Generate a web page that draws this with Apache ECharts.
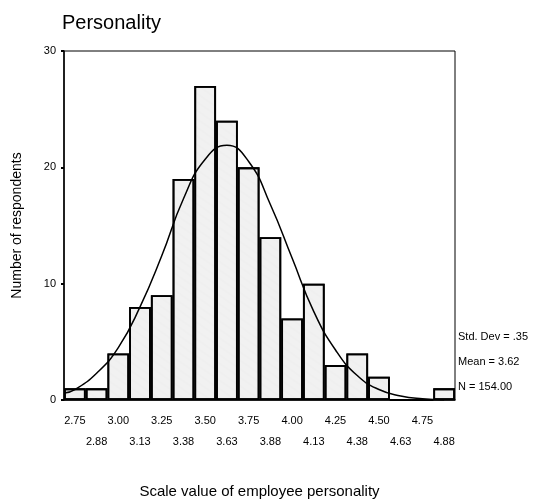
<!DOCTYPE html>
<html>
<head>
<meta charset="utf-8">
<script src="https://cdn.jsdelivr.net/npm/echarts@6/dist/echarts.min.js"></script>
<style>
  html, body { margin: 0; padding: 0; background: #fff; }
  #chart { width: 546px; height: 504px; }
</style>
</head>
<body>
<div id="chart"></div>
<script>
// bin labels (bin width .125)
const binLabels = ["2.75", "2.88", "3.00", "3.13", "3.25", "3.38", "3.50", "3.63", "3.75",
  "3.88", "4.00", "4.13", "4.25", "4.38", "4.50", "4.63", "4.75", "4.88"];
const counts = [1, 1, 4, 8, 9, 19, 27, 24, 20, 14, 7, 10, 3, 4, 2, 0, 0, 1];

// normal curve
const curveX = [2.69, 2.75, 2.875, 3.0, 3.125, 3.25, 3.375, 3.5, 3.625, 3.75, 3.875,
  4.0, 4.125, 4.25, 4.375, 4.5, 4.625, 4.75, 4.875];
const curveY = [0.6, 0.9, 2.3, 4.5, 8.0, 12.4, 17.3, 20.7, 21.9, 20.5, 16.8,
  12.2, 7.6, 4.3, 2.1, 0.9, 0.35, 0.1, 0.0];

const yTicks = [0, 10, 20, 30];
const stats = ["Std. Dev = .35", "Mean = 3.62", "N = 154.00"];

const font = "'Liberation Sans', Arial, sans-serif";

const chart = echarts.init(document.getElementById("chart"));

chart.setOption({
  animation: false,
  title: {
    text: "Personality",
    left: 57,
    top: 8,
    textStyle: { fontFamily: font, fontSize: 20, fontWeight: "normal", color: "#000" },
  },
  grid: {
    left: 64,
    right: 91,
    top: 51,
    bottom: 104,
    show: true,
    borderColor: "#000",
    borderWidth: 1,
  },
  xAxis: [
    {
      type: "category",
      data: binLabels,
      boundaryGap: true,
      name: "Scale value of employee personality",
      nameLocation: "middle",
      nameGap: 84,
      nameTextStyle: { fontFamily: font, fontSize: 15, color: "#000" },
      axisLine: { lineStyle: { color: "#000", width: 1.5 } },
      axisTick: { alignWithLabel: true, length: 4, lineStyle: { color: "#000", width: 2 } },
      axisLabel: {
        interval: 0,
        margin: 10,
        fontFamily: font,
        fontSize: 11,
        color: "#000",
        lineHeight: 21,
        formatter: (v, i) => (i % 2 === 0 ? v : "\n" + v),
      },
    },
    {
      type: "value",
      min: 2.6875,
      max: 4.9375,
      show: false,
    },
  ],
  yAxis: {
    type: "value",
    min: 0,
    max: 30,
    interval: 10,
    name: "Number of respondents",
    nameLocation: "middle",
    nameGap: 40,
    nameTextStyle: { fontFamily: font, fontSize: 14, color: "#000" },
    axisLine: { show: true, lineStyle: { color: "#000", width: 1.5 } },
    axisTick: { show: true, length: 3, lineStyle: { color: "#000", width: 2 } },
    splitLine: { show: false },
    axisLabel: {
      fontFamily: font,
      fontSize: 11,
      color: "#000",
      margin: 8,
      formatter: (v) => (yTicks.includes(v) ? String(v) : ""),
    },
  },
  series: [
    {
      type: "bar",
      xAxisIndex: 0,
      data: counts,
      barCategoryGap: "0%",
      itemStyle: {
        color: "#f1f1f1",
        borderColor: "#000",
        borderWidth: 1.8,
        decal: {
          symbol: "circle",
          symbolSize: 0.3,
          color: "rgba(0,0,0,0.3)",
          dashArrayX: [1, 0],
          dashArrayY: [2, 5],
          rotation: 0.6,
        },
      },
    },
    {
      type: "line",
      xAxisIndex: 1,
      data: curveX.map((x, i) => [x, curveY[i]]),
      smooth: true,
      symbol: "none",
      lineStyle: { color: "#000", width: 1.5 },
      z: 5,
    },
  ],
  graphic: stats.map((t, i) => ({
    type: "text",
    left: 458,
    top: 331 + i * 25,
    style: { text: t, font: "11px " + font, fill: "#000" },
  })),
});
</script>
</body>
</html>
